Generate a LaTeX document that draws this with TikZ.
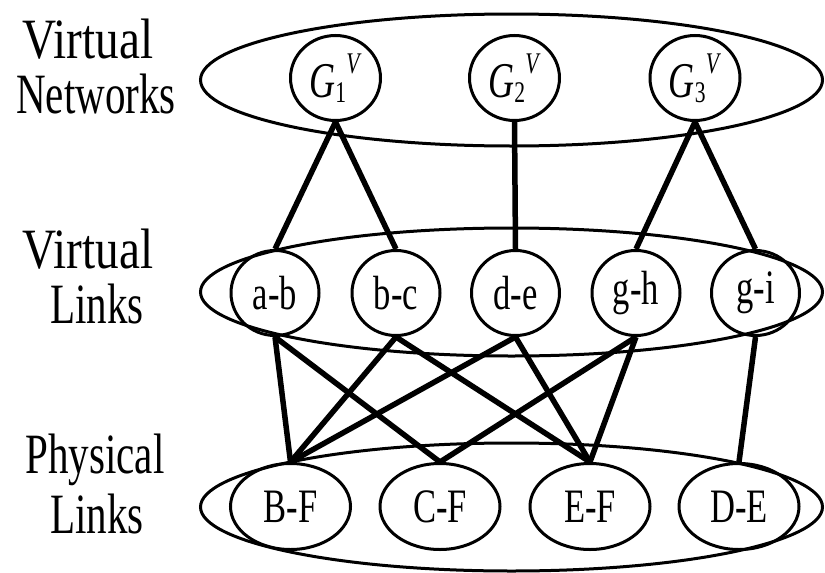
\documentclass[tikz,border=0pt]{standalone}
\usepackage{fontspec}
\setmainfont[FakeStretch=0.72]{Liberation Serif}
\usetikzlibrary{shapes.geometric}
\newcommand{\gv}[1]{\textit{G}\raisebox{-5pt}{\fontsize{30}{30}\selectfont #1}\raisebox{24pt}{\fontsize{30}{30}\selectfont\textit{V}}}
\newcommand{\wide}[1]{\scalebox{1.15}[1]{#1}}
\begin{document}
\begin{tikzpicture}[x=1pt,y=-1pt,
  group/.style={draw, ellipse, line width=3pt, minimum width=622pt, minimum height=128pt, inner sep=0pt},
  vnet/.style={draw, ellipse, line width=3pt, minimum width=90pt, minimum height=85pt, inner sep=0pt, font=\fontsize{50}{50}\selectfont},
  vlink/.style={draw, ellipse, line width=3pt, minimum width=88pt, minimum height=85pt, inner sep=0pt, font=\fontsize{48}{48}\selectfont},
  plink/.style={draw, ellipse, line width=3pt, minimum width=120pt, minimum height=86pt, inner sep=0pt, font=\fontsize{48}{48}\selectfont},
  edge/.style={line width=5.5pt},
  lab/.style={anchor=base, inner sep=0pt, font=\fontsize{57}{57}\selectfont}]
\useasboundingbox (0,0) rectangle (825,573);
% group ellipses
\node[group, minimum height=132pt] (top) at (511.5,80) {};
\node[group] (mid) at (511.5,292) {};
\node[group] (bot) at (511.5,507) {};
% left labels
\node[lab] (l1) at (88,58) {\wide{Virtual}};
\node[lab] (l2) at (96,113) {Networks};
\node[lab] (l3) at (88,268) {\wide{Virtual}};
\node[lab] (l4) at (97,323) {Links};
\node[lab] (l5) at (95,473) {Physical};
\node[lab] (l6) at (97,533) {Links};
% virtual networks
\node[vnet] (g1) at (335.5,78) {\gv{1}};
\node[vnet] (g2) at (514.5,78) {\gv{2}};
\node[vnet] (g3) at (695,78) {\gv{3}};
% virtual links
\node[vlink] (ab) at (275,293) {a-b};
\node[vlink] (bc) at (396,293) {b-c};
\node[vlink] (de) at (515.5,293) {d-e};
\node[vlink] (gh) at (636,293) {g-h};
\node[vlink] (gi) at (755.5,293) {g-i};
% physical links
\node[plink] (BF) at (290.5,506.5) {B-F};
\node[plink] (CF) at (440,506.5) {C-F};
\node[plink] (EF) at (590,506.5) {E-F};
\node[plink] (DE) at (739,506.5) {D-E};
% connectors
\draw[edge] (g1.south) -- (ab.north);
\draw[edge] (g1.south) -- (bc.north);
\draw[edge] (g2.south) -- (de.north);
\draw[edge] (g3.south) -- (gh.north);
\draw[edge] (g3.south) -- (gi.north);
\draw[edge] (ab.south) -- (BF.north);
\draw[edge] (ab.south) -- (CF.north);
\draw[edge] (bc.south) -- (BF.north);
\draw[edge] (bc.south) -- (EF.north);
\draw[edge] (de.south) -- (BF.north);
\draw[edge] (de.south) -- (EF.north);
\draw[edge] (gh.south) -- (CF.north);
\draw[edge] (gh.south) -- (EF.north);
\draw[edge] (gi.south) -- (DE.north);
\end{tikzpicture}
\end{document}
